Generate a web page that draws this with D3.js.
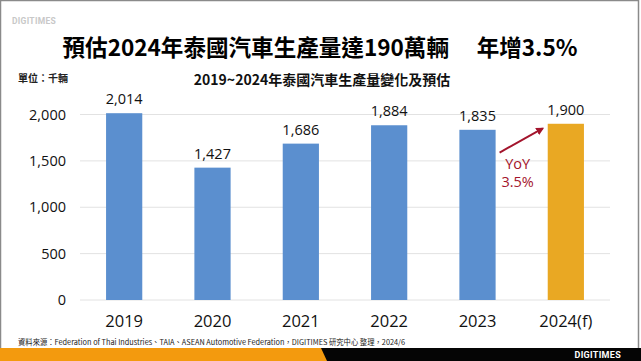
<!DOCTYPE html>
<html>
<head>
<meta charset="utf-8">
<script src="https://cdn.jsdelivr.net/npm/d3@7"></script>
<style>
  body { margin: 0; background: #fff; }
  svg { display: block; font-family: "Noto Sans CJK TC", "Noto Sans", sans-serif; }
</style>
</head>
<body>
<svg id="chart" width="641" height="361"></svg>
<script>
// data
var years = ["2019", "2020", "2021", "2022", "2023", "2024(f)"];
var production = [2014, 1427, 1686, 1884, 1835, 1900];
var yTicks = [0, 500, 1000, 1500, 2000];

var svg = d3.select("#chart");
var W = 641, H = 361;

// frame
svg.append("rect").attr("x", 0.5).attr("y", 0.5).attr("width", W - 3).attr("height", H - 1)
    .attr("fill", "#fff").attr("stroke", "#8a8a8a").attr("stroke-width", 1.5);

// top logo
svg.append("text").attr("x", 12).attr("y", 24)
    .attr("font-family", "Roboto, sans-serif").attr("font-size", 8.5).attr("font-weight", "bold")
    .attr("fill", "#c8c8c8").attr("letter-spacing", 0.3).text("DIGITIMES");

// title
svg.append("text").attr("x", 320).attr("y", 56).attr("text-anchor", "middle")
    .attr("font-size", 23).attr("font-weight", "bold").attr("fill", "#000")
    .attr("textLength", 515).attr("lengthAdjust", "spacingAndGlyphs")
    .text("預估2024年泰國汽車生產量達190萬輛　 年增3.5%");

svg.append("text").attr("x", 18).attr("y", 82)
    .attr("font-size", 10).attr("font-weight", "bold").attr("fill", "#222")
    .text("單位：千輛");

svg.append("text").attr("x", 322).attr("y", 85).attr("text-anchor", "middle")
    .attr("font-size", 14).attr("font-weight", "bold").attr("fill", "#111")
    .text("2019~2024年泰國汽車生產量變化及預估");

// scales
var x = d3.scaleBand().domain(years).range([80, 610]).paddingInner(0.59).paddingOuter(0.295);
var y = d3.scaleLinear().domain([0, 2000]).range([300, 114.5]);

var g = svg.append("g");

// gridlines
g.selectAll("line.grid").data(yTicks).enter().append("line")
    .attr("class", "grid")
    .attr("x1", 80).attr("x2", 610)
    .attr("y1", function(d) { return y(d); }).attr("y2", function(d) { return y(d); })
    .attr("stroke", "#e2e2e2").attr("stroke-width", 1);

// y axis labels
var yAxis = d3.axisLeft(y).tickValues(yTicks).tickSize(0).tickPadding(0).tickFormat(d3.format(","));
var ya = g.append("g").attr("transform", "translate(66,0)").call(yAxis);
ya.select(".domain").remove();
ya.selectAll("text").attr("font-family", "Open Sans, sans-serif").attr("font-size", 14.5).attr("fill", "#111");

// bars
g.selectAll("rect.bar").data(production).enter().append("rect")
    .attr("class", "bar")
    .attr("x", function(d, i) { return x(years[i]); })
    .attr("width", x.bandwidth())
    .attr("y", function(d) { return y(d); })
    .attr("height", function(d) { return y(0) - y(d); })
    .attr("fill", function(d, i) { return i === years.length - 1 ? "#e9a823" : "#5b8fcf"; });

// value labels
g.selectAll("text.val").data(production).enter().append("text")
    .attr("class", "val")
    .attr("x", function(d, i) { return x(years[i]) + x.bandwidth() / 2; })
    .attr("y", function(d) { return y(d) - 9; })
    .attr("text-anchor", "middle")
    .attr("font-family", "Open Sans, sans-serif").attr("font-size", 14.5).attr("fill", "#111")
    .text(function(d) { return d3.format(",")(d); });

// x axis labels
var xAxis = d3.axisBottom(x).tickSize(0).tickPadding(0);
var xa = g.append("g").attr("transform", "translate(0,315)").call(xAxis);
xa.select(".domain").remove();
xa.selectAll("text").attr("font-family", "Open Sans, sans-serif").attr("font-size", 16.5).attr("fill", "#111");

// YoY arrow
var defs = svg.append("defs");
defs.append("marker").attr("id", "arr").attr("viewBox", "0 0 10 10")
    .attr("refX", 8).attr("refY", 5).attr("markerWidth", 4).attr("markerHeight", 4)
    .attr("orient", "auto")
    .append("path").attr("d", "M0,0L10,5L0,10z").attr("fill", "#a3142c");
var c23 = x("2023") + x.bandwidth(), c24 = x("2024(f)");
g.append("line")
    .attr("x1", c23 + 4).attr("y1", y(1590))
    .attr("x2", c24 - 5).attr("y2", y(1850))
    .attr("stroke", "#a3142c").attr("stroke-width", 2).attr("marker-end", "url(#arr)");
var mid = (c23 + c24) / 2 - 4;
g.append("text").attr("x", mid).attr("y", 169).attr("text-anchor", "middle")
    .attr("font-family", "Open Sans, sans-serif").attr("font-size", 14.5).attr("fill", "#a3142c").text("YoY");
g.append("text").attr("x", mid).attr("y", 187).attr("text-anchor", "middle")
    .attr("font-family", "Open Sans, sans-serif").attr("font-size", 14.5).attr("fill", "#a3142c").text("3.5%");

// source
svg.append("text").attr("x", 18).attr("y", 345)
    .attr("font-size", 7.5).attr("fill", "#222")
    .attr("textLength", 387).attr("lengthAdjust", "spacingAndGlyphs")
    .text("資料來源：Federation of Thai Industries、TAIA、ASEAN Automotive Federation，DIGITIMES 研究中心 整理，2024/6");

// bottom band
svg.append("rect").attr("x", 0).attr("y", 348).attr("width", W).attr("height", 13).attr("fill", "#f39a0e");
svg.append("path").attr("d", "M321,348L641,348L641,361L327,361Z").attr("fill", "#050505");
svg.append("text").attr("x", 621).attr("y", 358).attr("text-anchor", "end")
    .attr("font-family", "Roboto, sans-serif").attr("font-size", 9).attr("font-weight", "bold")
    .attr("fill", "#fff").attr("letter-spacing", 0.3).text("DIGITIMES");
</script>
</body>
</html>
